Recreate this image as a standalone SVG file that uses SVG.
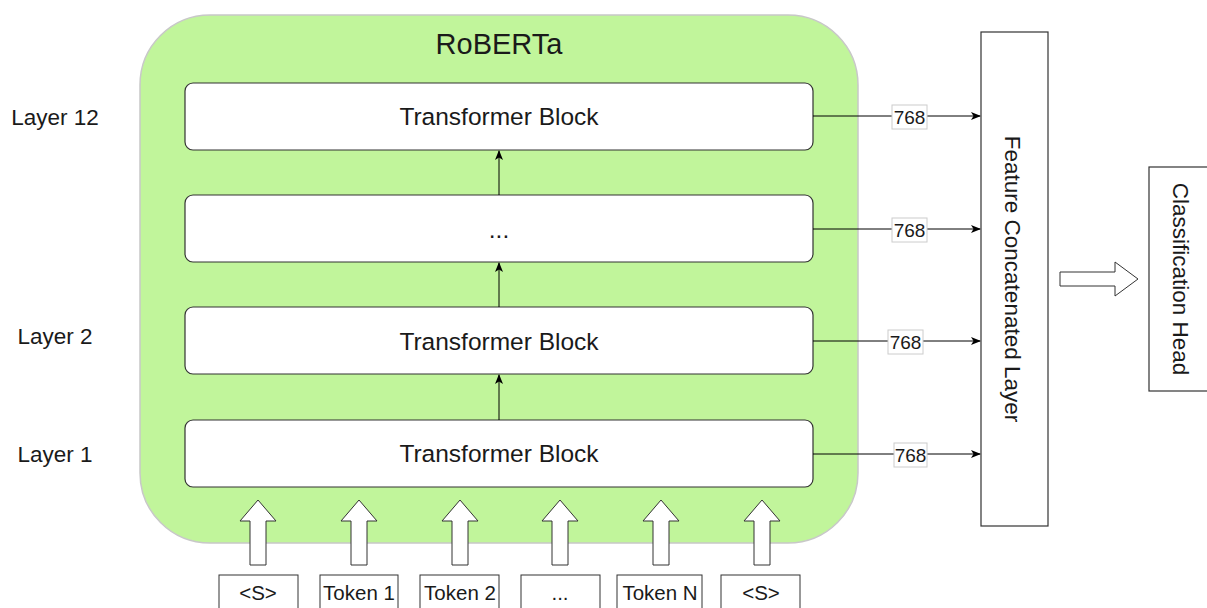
<svg xmlns="http://www.w3.org/2000/svg" width="1207" height="608" viewBox="0 0 1207 608">
<style>
text{font-family:"Liberation Sans",Arial,sans-serif;fill:#1a1a1a}
.blk{fill:#fff;stroke:#333;stroke-width:1.2}
.bt{font-size:24.5px;text-anchor:middle}
.lay{font-size:22.5px;text-anchor:middle}
.tok{fill:#fff;stroke:#333;stroke-width:1}
.tt{font-size:20.5px;text-anchor:middle}
.edge{stroke:#000;stroke-width:1;fill:none}
.lbl{fill:#fff;stroke:#ccc;stroke-width:1}
.lt{font-size:19px;text-anchor:middle}
.hollow{fill:#fff;stroke:#333;stroke-width:1}
</style>
<defs>
<marker id="ah" markerWidth="10" markerHeight="8" refX="9" refY="4" orient="auto" markerUnits="userSpaceOnUse">
<path d="M0,0 L10,4 L0,8 L2.5,4 Z" fill="#000"/>
</marker>
</defs>
<g id="roberta">
<rect x="140" y="15" width="718" height="528" rx="70" fill="#c1f59b" stroke="#c8c8c8" stroke-width="1.5"/>
<text x="499" y="54" style="font-size:29px;text-anchor:middle">RoBERTa</text>
</g>
<g id="layer-labels">
<text class="lay" x="55" y="125">Layer 12</text>
<text class="lay" x="55" y="344">Layer 2</text>
<text class="lay" x="55" y="462">Layer 1</text>
</g>
<g id="block12"><rect class="blk" x="185" y="83" width="628" height="67" rx="8"/><text class="bt" x="499" y="125">Transformer Block</text></g>
<g id="blockdots"><rect class="blk" x="185" y="195" width="628" height="67" rx="8"/><text class="bt" x="499" y="238">...</text></g>
<g id="block2"><rect class="blk" x="185" y="307" width="628" height="67" rx="8"/><text class="bt" x="499" y="350">Transformer Block</text></g>
<g id="block1"><rect class="blk" x="185" y="420" width="628" height="67" rx="8"/><text class="bt" x="499" y="462">Transformer Block</text></g>
<g id="feature"><rect x="981" y="32" width="67" height="494" fill="#fff" stroke="#333" stroke-width="1.2"/><text x="1013" y="279" transform="rotate(90 1013 279)" style="font-size:22.5px;text-anchor:middle" dy="8">Feature Concatenated Layer</text></g>
<g id="classhead"><rect x="1149" y="167" width="62" height="224" fill="#fff" stroke="#333" stroke-width="1.2"/><text x="1181" y="279" transform="rotate(90 1181 279)" style="font-size:22.5px;text-anchor:middle" dy="8">Classification Head</text></g>
<g id="tokens">
<g id="tok-s1"><rect class="tok" x="219" y="575" width="79" height="40"/><text class="tt" x="258" y="600">&lt;S&gt;</text></g>
<g id="tok-1"><rect class="tok" x="320" y="575" width="78" height="40"/><text class="tt" x="359" y="600">Token 1</text></g>
<g id="tok-2"><rect class="tok" x="420" y="575" width="79" height="40"/><text class="tt" x="460" y="600">Token 2</text></g>
<g id="tok-dots"><rect class="tok" x="521" y="575" width="79" height="40"/><text class="tt" x="560" y="600">...</text></g>
<g id="tok-n"><rect class="tok" x="617" y="575" width="85" height="40"/><text class="tt" x="660" y="600">Token N</text></g>
<g id="tok-s2"><rect class="tok" x="721" y="575" width="79" height="40"/><text class="tt" x="761" y="600">&lt;S&gt;</text></g>
</g>
<g id="connectors">
<line class="edge" x1="499" y1="195" x2="499" y2="151" marker-end="url(#ah)"/>
<line class="edge" x1="499" y1="307" x2="499" y2="263" marker-end="url(#ah)"/>
<line class="edge" x1="499" y1="420" x2="499" y2="375" marker-end="url(#ah)"/>
<line class="edge" x1="813" y1="116" x2="980" y2="116" marker-end="url(#ah)"/>
<line class="edge" x1="813" y1="229" x2="980" y2="229" marker-end="url(#ah)"/>
<line class="edge" x1="813" y1="341" x2="980" y2="341" marker-end="url(#ah)"/>
<line class="edge" x1="813" y1="454" x2="980" y2="454" marker-end="url(#ah)"/>
<rect class="lbl" x="892" y="105" width="35" height="24"/><text class="lt" x="909.5" y="124">768</text>
<rect class="lbl" x="892" y="218" width="35" height="24"/><text class="lt" x="909.5" y="237">768</text>
<rect class="lbl" x="888" y="330" width="35" height="24"/><text class="lt" x="905.5" y="349">768</text>
<rect class="lbl" x="894" y="443" width="33" height="24"/><text class="lt" x="910.5" y="462">768</text>
<path class="hollow" d="M1060,272 L1115,272 L1115,262 L1138,279 L1115,296 L1115,286 L1060,286 Z"/>
<path class="hollow" d="M250,565 L250,521 L240,521 L258,500 L276,521 L266,521 L266,565 Z"/>
<path class="hollow" d="M351,565 L351,521 L341,521 L359,500 L377,521 L367,521 L367,565 Z"/>
<path class="hollow" d="M452,565 L452,521 L442,521 L460,500 L478,521 L468,521 L468,565 Z"/>
<path class="hollow" d="M552,565 L552,521 L542,521 L560,500 L578,521 L568,521 L568,565 Z"/>
<path class="hollow" d="M653,565 L653,521 L643,521 L661,500 L679,521 L669,521 L669,565 Z"/>
<path class="hollow" d="M754,565 L754,521 L744,521 L762,500 L780,521 L770,521 L770,565 Z"/>
</g>
</svg>
